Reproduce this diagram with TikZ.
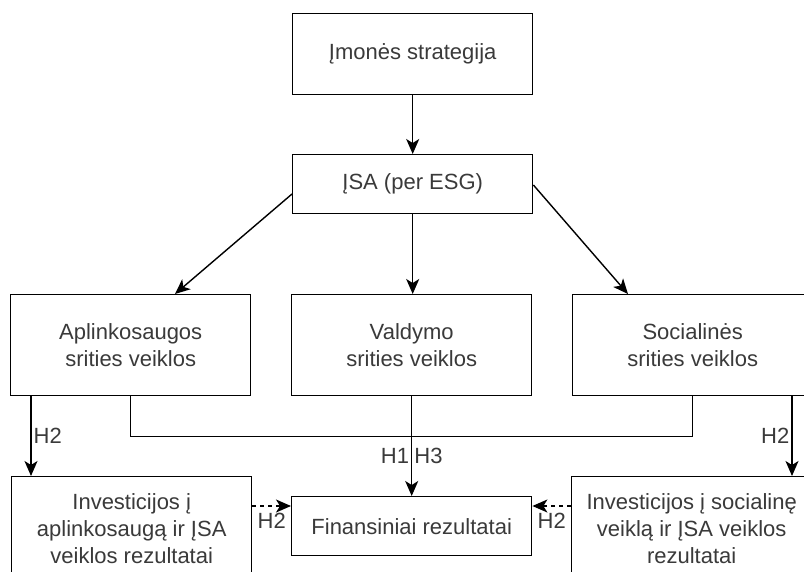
\documentclass[tikz,border=0pt]{standalone}
\usepackage{fontspec}
\setmainfont{Liberation Sans}
\usetikzlibrary{arrows.meta,calc}
\definecolor{ink}{HTML}{3A3A3A}
\begin{document}
\begin{tikzpicture}[x=1pt,y=-1pt,
  box/.style={draw=black,line width=1.4pt,fill=white,minimum width=240pt,
    inner sep=0pt,anchor=north west,align=center,text=ink,
    font=\fontsize{22}{27}\selectfont},
  link/.style={line width=1.4pt},
  arr/.style={link,-{Stealth[length=15pt,width=13pt,inset=4pt]}},
  dasharr/.style={arr,dash pattern=on 4pt off 4pt},
  lbl/.style={text=ink,font=\fontsize{22}{26}\selectfont,inner sep=2pt}]
\useasboundingbox (0,0) rectangle (804,571);
\clip (0,0) rectangle (804,571);

% boxes
\node[box,minimum height=81pt]  (strat)  at (292,13)  {Įmonės strategija};
\node[box,minimum height=59pt]  (isa)    at (292,154) {ĮSA (per ESG)};
\node[box,minimum height=101pt] (env)    at (10,294)  {Aplinkosaugos\\srities veiklos};
\node[box,minimum height=101pt] (gov)    at (291,294) {Valdymo\\srities veiklos};
\node[box,minimum height=101pt] (soc)    at (572,294) {Socialinės\\srities veiklos};
\node[box,minimum height=104pt] (envinv) at (11,476)  {Investicijos į\\aplinkosaugą ir ĮSA\\veiklos rezultatai};
\node[box,minimum height=59pt]  (fin)    at (291,496) {Finansiniai rezultatai};
\node[box,minimum height=104pt] (socinv) at (571,476) {Investicijos į socialinę\\veiklą ir ĮSA veiklos\\rezultatai};

% connector end points
\coordinate (isaL)   at ($(isa.north west)+(0,40)$);
\coordinate (isaR)   at ($(isa.north east)+(0,31)$);
\coordinate (envIn)  at ($(env.north west)+(165,0)$);
\coordinate (socIn)  at ($(soc.north west)+(56,0)$);
\coordinate (envOut) at ($(env.south west)+(21,0)$);
\coordinate (socOut) at ($(soc.south west)+(220,0)$);
\coordinate (envInvOut) at ($(envinv.north east)+(0,30)$);
\coordinate (socInvOut) at ($(socinv.north west)+(0,30)$);
\coordinate (finL)   at ($(fin.north west)+(0,10)$);
\coordinate (finR)   at ($(fin.north east)+(0,10)$);

% top-down flow
\draw[arr] (strat.south) -- (isa.north);
\draw[arr] (isa.south) -- (isa.south |- gov.north);
\draw[arr] (isaL) -- (envIn);
\draw[arr] (isaR) -- (socIn);

% joining line under the three areas
\draw[link] (env.south) -- ++(0,40) -| (soc.south);
\draw[arr] (gov.south) -- (gov.south |- fin.north)
  node[lbl,pos=0.6,left]  {H1}
  node[lbl,pos=0.6,right] {H3};

% H2 branches
\draw[arr] (envOut) -- (envOut |- envinv.north) node[lbl,midway,right] {H2};
\draw[arr] (socOut) -- (socOut |- socinv.north) node[lbl,midway,left] {H2};
\draw[dasharr] (envInvOut) -- (finL) node[lbl,midway,below=4pt] {H2};
\draw[dasharr] (socInvOut) -- (finR) node[lbl,midway,below=4pt] {H2};
\end{tikzpicture}
\end{document}
